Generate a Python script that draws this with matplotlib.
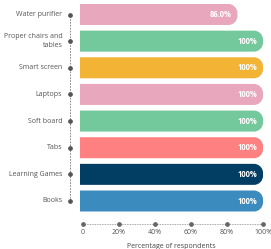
import matplotlib
matplotlib.use("Agg")
import matplotlib.pyplot as plt
from matplotlib.path import Path
from matplotlib.patches import PathPatch

categories = ["Water purifier", "Proper chairs and\ntables", "Smart screen", "Laptops",
              "Soft board", "Tabs", "Learning Games", "Books"]
values = [86.0, 100, 100, 100, 100, 100, 100, 100]
value_labels = ["86.0%", "100%", "100%", "100%", "100%", "100%", "100%", "100%"]
colors = ["#E8A7BC", "#73C99C", "#F3B335", "#E8A7BC", "#73C99C", "#FF8080", "#023D63", "#3C8BBF"]
ticks = [0, 20, 40, 60, 80, 100]
tick_labels = ["0", "20%", "40%", "60%", "80%", "100%"]

plt.rcParams['font.family'] = ['Open Sans', 'DejaVu Sans']

W, H = 271, 249
fig = plt.figure(figsize=(W / 100, H / 100), dpi=100)
ax_l, ax_r, ax_t, ax_b = 68, 266, 2, 226
ax = fig.add_axes([ax_l / W, 1 - ax_b / H, (ax_r - ax_l) / W, (ax_b - ax_t) / H])

bar_x0_px, bar_x100_px = 80, 263
px_per_x = (bar_x100_px - bar_x0_px) / 100.0
x0 = -(bar_x0_px - ax_l) / px_per_x
x1 = 100 + (ax_r - bar_x100_px) / px_per_x
px_per_y = (201 - 14.5) / 7.0
n = len(categories)
ypos = [n - 1 - i for i in range(n)]
y_bottom = -(ax_b - 201) / px_per_y
y_top = (n - 1) + (14.5 - ax_t) / px_per_y
ax.set_xlim(x0, x1)
ax.set_ylim(y_bottom, y_top)

bar_h = 21 / px_per_y
r_px = 9.0
rx = r_px / px_per_x
ry = r_px / px_per_y
k = 0.5523


def right_rounded_bar(y, v, h):
    b, t = y - h / 2, y + h / 2
    verts = [(0, b), (v - rx, b),
             (v - rx + k * rx, b), (v, b + ry - k * ry), (v, b + ry),
             (v, t - ry),
             (v, t - ry + k * ry), (v - rx + k * rx, t), (v - rx, t),
             (0, t), (0, b)]
    codes = [Path.MOVETO, Path.LINETO,
             Path.CURVE4, Path.CURVE4, Path.CURVE4,
             Path.LINETO,
             Path.CURVE4, Path.CURVE4, Path.CURVE4,
             Path.LINETO, Path.CLOSEPOLY]
    return Path(verts, codes)


for y, v, c, lab in zip(ypos, values, colors, value_labels):
    ax.add_patch(PathPatch(right_rounded_bar(y, v, bar_h), fc=c, ec="none", zorder=2))
    ax.text(v - 3.3, y, lab, ha="right", va="center", color="white",
            fontsize=5.5, fontweight="bold", zorder=3)

# y axis: dashed line with dots
yaxis_x = (70 - bar_x0_px) / px_per_x
ax.plot([yaxis_x, yaxis_x], [min(ypos), max(ypos)], ls=(0, (2, 1.5)), lw=0.6,
        color="#777777", clip_on=False, zorder=1)
ax.plot([yaxis_x] * n, ypos, "o", ms=2.4, color="#555555", clip_on=False, zorder=3)
for y, cat in zip(ypos, categories):
    ax.text(yaxis_x - 4.2, y, cat, ha="right", va="center", fontsize=5,
            color="#555555", linespacing=1.3)

# x axis: dotted line with dots
xaxis_y = -(224 - 201) / px_per_y
start = (82.7 - bar_x0_px) / px_per_x
tick_x = [start + t * (100 - start) / 100 for t in ticks]
ax.plot([tick_x[0], tick_x[-1]], [xaxis_y, xaxis_y], ls=(0, (1, 1)), lw=0.6,
        color="#888888", clip_on=False, zorder=1)
ax.plot(tick_x, [xaxis_y] * len(ticks), "o", ms=2.4, color="#666666", clip_on=False, zorder=3)
for tx, tl in zip(tick_x, tick_labels):
    ax.text(tx, xaxis_y - 8 / px_per_y, tl, ha="center", va="center", fontsize=5,
            color="#555555", clip_on=False)
ax.text(50, xaxis_y - 22 / px_per_y, "Percentage of respondents", ha="center", va="center",
        fontsize=5, color="#444444", clip_on=False)

ax.axis("off")
fig.savefig("out.png", dpi=100)
